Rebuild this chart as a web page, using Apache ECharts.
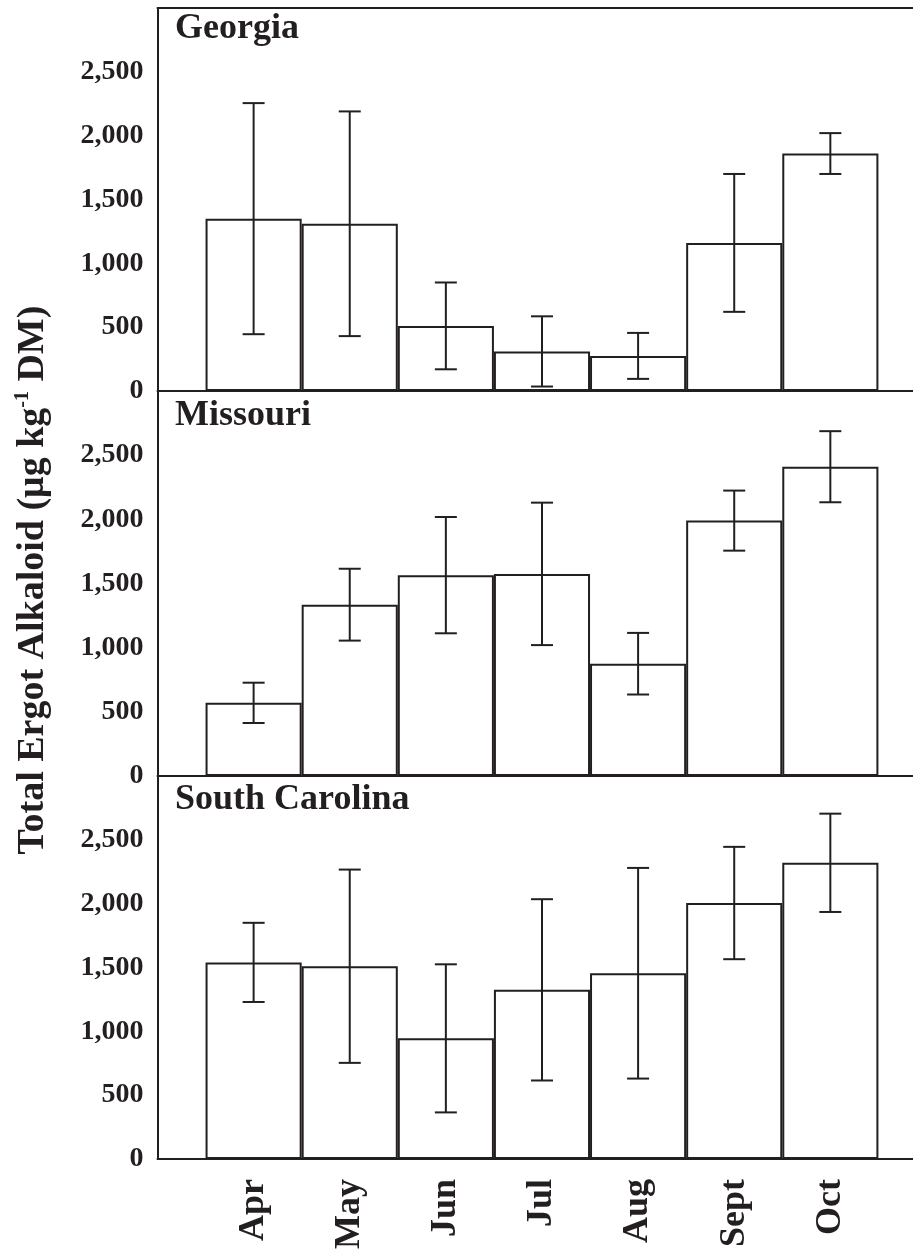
<!DOCTYPE html>
<html>
<head>
<meta charset="utf-8">
<title>Total Ergot Alkaloid by month</title>
<script src="https://cdn.jsdelivr.net/npm/echarts@6/dist/echarts.min.js"></script>
<style>
  html, body { margin: 0; padding: 0; background: #ffffff; }
  #chart { width: 913px; height: 1252px; }
</style>
</head>
<body>
<div id="chart"></div>
<script>
// Sampling months (x categories)
const months = ['Apr', 'May', 'Jun', 'Jul', 'Aug', 'Sept', 'Oct'];
// Panel headings, top to bottom
const panelNames = ['Georgia', 'Missouri', 'South Carolina'];

// Mean total ergot alkaloid (µg/kg DM) and its error (±) per month
const georgiaMean = [1350, 1310, 510, 310, 275, 1160, 1860];
const georgiaErr = [905, 880, 340, 275, 180, 540, 160];
const missouriMean = [570, 1335, 1565, 1575, 875, 1990, 2410];
const missouriErr = [157, 280, 453, 555, 240, 234, 277];
const carolinaMean = [1540, 1510, 945, 1325, 1455, 2005, 2320];
const carolinaErr = [310, 757, 580, 710, 825, 440, 385];

// Labelled y ticks
const yTicks = [0, 500, 1000, 1500, 2000, 2500];

const panels = [
  { mean: georgiaMean, err: georgiaErr },
  { mean: missouriMean, err: missouriErr },
  { mean: carolinaMean, err: carolinaErr }
];

const INK = '#231f20';
const SERIF = '"Liberation Serif", "Times New Roman", serif';

const gridBoxes = [
  { top: 8, height: 383 },
  { top: 391, height: 385 },
  { top: 776, height: 383 }
];

const X_MIN = -1;
const X_MAX = 6.86;
const Y_MAX = 3000;

const grids = gridBoxes.map(g => ({
  left: 157.5, right: 0, top: g.top, height: g.height,
  outerBoundsMode: 'none'
}));

const xAxes = gridBoxes.map((g, i) => ({
  type: 'value',
  gridIndex: i,
  min: X_MIN,
  max: X_MAX,
  interval: 1,
  splitLine: { show: false },
  axisTick: { show: false },
  axisLine: { show: true, onZero: false, lineStyle: { color: INK, width: 2 } },
  axisLabel: {
    show: i === 2,
    rotate: 90,
    margin: 20,
    fontFamily: SERIF,
    fontWeight: 'bold',
    fontSize: 36,
    color: INK,
    formatter: v => (Number.isInteger(v) && months[v] !== undefined ? months[v] : '')
  }
}));
// frame line along the top of the first panel
xAxes.push({
  type: 'value', gridIndex: 0, position: 'top', min: X_MIN, max: X_MAX,
  splitLine: { show: false }, axisTick: { show: false }, axisLabel: { show: false },
  axisLine: { show: true, onZero: false, lineStyle: { color: INK, width: 2 } }
});

const yAxes = gridBoxes.map((g, i) => ({
  type: 'value',
  gridIndex: i,
  position: 'left',
  min: 0,
  max: Y_MAX,
  interval: 500,
  splitLine: { show: false },
  axisTick: { show: false },
  axisLine: { show: true, onZero: false, lineStyle: { color: INK, width: 2 } },
  axisLabel: {
    margin: 14,
    fontFamily: SERIF,
    fontWeight: 'bold',
    fontSize: 28,
    color: INK,
    formatter: v => (yTicks.includes(v) ? v.toLocaleString('en-US') : '')
  }
}));

function renderErrorBar(params, api) {
  const x = api.value(0);
  const top = api.coord([x, api.value(2)]);
  const bot = api.coord([x, api.value(1)]);
  const half = 11;
  const style = { stroke: INK, lineWidth: 2 };
  return {
    type: 'group',
    children: [
      { type: 'line', shape: { x1: top[0], y1: top[1], x2: bot[0], y2: bot[1] }, style },
      { type: 'line', shape: { x1: top[0] - half, y1: top[1], x2: top[0] + half, y2: top[1] }, style },
      { type: 'line', shape: { x1: bot[0] - half, y1: bot[1], x2: bot[0] + half, y2: bot[1] }, style }
    ]
  };
}

const series = [];
panels.forEach((p, i) => {
  series.push({
    type: 'bar',
    xAxisIndex: i,
    yAxisIndex: i,
    barWidth: '100%',
    data: p.mean.map((m, k) => [k, m]),
    itemStyle: { color: '#ffffff', borderColor: INK, borderWidth: 2 },
    z: 2
  });
  series.push({
    type: 'custom',
    xAxisIndex: i,
    yAxisIndex: i,
    renderItem: renderErrorBar,
    encode: { x: 0, y: [1, 2] },
    data: p.mean.map((m, k) => [k, m - p.err[k], m + p.err[k]]),
    z: 3
  });
});

const titleCenters = [29, 416, 800];
const graphics = panelNames.map((name, i) => ({
  type: 'text',
  x: 175,
  y: titleCenters[i],
  z: 10,
  style: {
    text: name,
    fontFamily: SERIF,
    fontWeight: 'bold',
    fontSize: 36,
    fill: INK,
    align: 'left',
    verticalAlign: 'middle'
  }
}));
// shared y-axis title with the superscript exponent
graphics.push({
  type: 'text',
  x: 33,
  y: 580,
  rotation: Math.PI / 2,
  z: 10,
  style: {
    text: '{a|Total Ergot Alkaloid (\u03bcg kg}{s|-1}{a| DM)}',
    align: 'center',
    verticalAlign: 'middle',
    fill: INK,
    rich: {
      a: { fontFamily: SERIF, fontWeight: 'bold', fontSize: 38, fill: INK, lineHeight: 40 },
      s: { fontFamily: SERIF, fontWeight: 'bold', fontSize: 20, fill: INK, verticalAlign: 'top', lineHeight: 40 }
    }
  }
});

const chart = echarts.init(document.getElementById('chart'), null, { renderer: 'canvas' });
chart.setOption({
  animation: false,
  backgroundColor: '#ffffff',
  grid: grids,
  xAxis: xAxes,
  yAxis: yAxes,
  series: series,
  graphic: graphics
});
</script>
</body>
</html>
